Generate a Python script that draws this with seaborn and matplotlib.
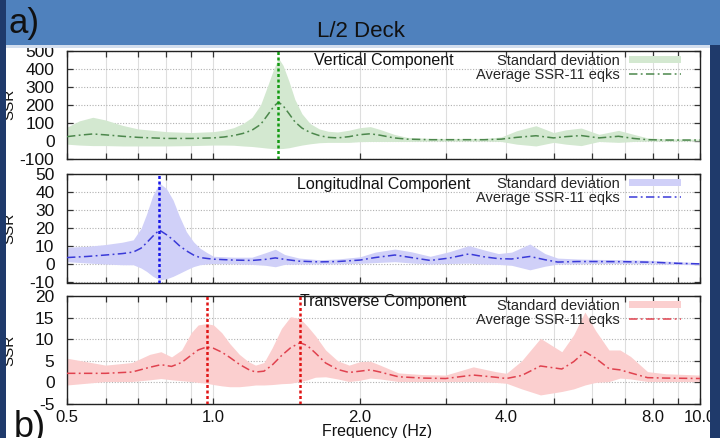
import matplotlib
matplotlib.use("Agg")
import matplotlib.pyplot as plt
import seaborn as sns
import pandas as pd
from matplotlib.patches import Rectangle
from matplotlib.ticker import FixedLocator, NullFormatter, FixedFormatter

# ---------------- data ----------------
vert_freq = [0.50, 0.53, 0.565, 0.60, 0.65, 0.70, 0.80, 0.90, 1.00, 1.05, 1.10, 1.15, 1.20, 1.25,
             1.29, 1.33, 1.36, 1.39, 1.43, 1.47, 1.52, 1.58, 1.65, 1.72, 1.80, 1.90, 2.00, 2.10,
             2.20, 2.35, 2.50, 2.80, 3.20, 3.60, 3.90, 4.20, 4.60, 5.00, 5.30, 5.70, 6.20, 6.80,
             7.30, 7.80, 8.50, 10.0]
vert_mean = [22, 30, 37, 32, 24, 18, 12, 12, 15, 20, 28, 40, 58, 90,
             140, 190, 215, 195, 150, 105, 70, 45, 28, 18, 15, 22, 33, 38,
             30, 15, 8, 5, 5, 5, 8, 18, 27, 15, 22, 28, 15, 24,
             12, 5, 3, 3]
vert_upper = [75, 110, 130, 115, 85, 65, 50, 45, 50, 58, 72, 95, 130, 200,
              300, 400, 460, 420, 330, 230, 150, 95, 65, 52, 48, 58, 72, 78,
              62, 35, 18, 12, 12, 12, 20, 55, 83, 45, 60, 70, 35, 57,
              35, 15, 10, 8]
vert_lower = [-20, -25, -28, -28, -30, -30, -30, -28, -25, -25, -26, -30, -33, -38,
              -42, -45, -45, -44, -40, -33, -25, -18, -12, -10, -10, -10, -6, -5,
              -5, -5, -5, -3, -3, -3, -5, -20, -30, -10, -20, -28, -5, -10,
              -5, -3, -3, -2]

long_freq = [0.50, 0.55, 0.60, 0.65, 0.684, 0.71, 0.729, 0.75, 0.774, 0.80, 0.826, 0.85, 0.88,
             0.91, 0.938, 0.97, 1.00, 1.10, 1.20, 1.28, 1.34, 1.40, 1.50, 1.65, 1.80, 2.00,
             2.15, 2.36, 2.55, 2.79, 3.05, 3.35, 3.60, 3.85, 4.10, 4.47, 4.80, 5.10, 5.60,
             6.00, 7.00, 8.00, 9.00, 10.0]
long_mean = [3.8, 4.4, 5.2, 6.0, 6.8, 9.0, 12.0, 15.5, 19.0, 16.5, 13.6, 10.5, 7.5,
             5.2, 3.8, 3.3, 2.9, 2.4, 2.2, 2.8, 3.6, 2.8, 1.8, 1.4, 1.6, 2.4,
             3.8, 5.2, 3.8, 2.2, 3.5, 5.8, 4.2, 3.2, 3.0, 4.4, 2.6, 1.3, 1.6,
             1.6, 1.5, 1.2, 0.6, 0.3]
long_upper = [9.5, 10.0, 11.0, 12.3, 13.6, 20.0, 28.0, 38.0, 45.0, 42.0, 35.6, 27.0, 18.0,
              12.5, 9.0, 6.5, 4.5, 4.0, 4.0, 6.5, 8.4, 5.5, 3.5, 2.6, 3.0, 4.2,
              6.8, 8.5, 7.0, 4.5, 7.0, 10.4, 8.0, 6.0, 6.8, 11.3, 6.0, 3.5, 3.0,
              2.8, 2.6, 2.2, 1.5, 1.0]
long_lower = [1.5, 0.8, 0.2, -0.2, -0.2, -2.0, -3.9, -6.5, -8.5, -8.0, -6.6, -5.0, -3.0,
              -1.2, -0.2, 0.3, 0.5, 0.3, 0.0, -0.5, -1.3, 0.0, 0.2, 0.3, 0.3, 0.6,
              1.0, 1.5, 0.8, 0.2, 0.5, 0.7, 0.2, 0.0, -0.5, -3.0, -1.0, 0.2, 0.3,
              0.5, 0.5, 0.3, 0.0, -0.2]

trans_freq = [0.50, 0.60, 0.68, 0.74, 0.78, 0.82, 0.86, 0.90, 0.93, 0.968, 1.00, 1.04, 1.08,
              1.13, 1.18, 1.22, 1.27, 1.32, 1.38, 1.44, 1.506, 1.56, 1.62, 1.70, 1.80, 1.90,
              2.00, 2.10, 2.20, 2.40, 2.70, 3.00, 3.42, 3.80, 4.00, 4.30, 4.70, 5.20, 5.50,
              5.80, 6.10, 6.50, 6.85, 7.20, 7.80, 8.50, 10.0]
trans_mean = [2.1, 2.1, 2.4, 3.5, 4.1, 3.7, 4.6, 6.3, 7.5, 8.2, 7.9, 7.0, 5.8,
              4.2, 3.0, 2.4, 2.6, 4.0, 6.2, 8.0, 9.2, 8.5, 6.8, 4.5, 3.0, 2.3,
              2.6, 2.9, 2.4, 1.3, 1.0, 0.9, 1.7, 1.2, 0.9, 1.6, 3.8, 3.1, 4.8,
              7.1, 5.6, 3.2, 2.9, 2.2, 1.1, 1.0, 0.9]
trans_upper = [5.6, 4.0, 4.6, 6.5, 7.1, 5.9, 7.5, 11.5, 13.3, 13.6, 13.3, 11.5, 9.0,
               6.5, 4.8, 4.0, 4.6, 8.0, 12.5, 15.2, 14.8, 13.0, 10.8, 7.5, 5.0, 4.0,
               4.8, 4.9, 4.0, 2.2, 1.8, 1.7, 3.6, 2.5, 2.1, 5.0, 10.2, 7.1, 11.0,
               16.3, 12.0, 7.5, 7.5, 6.0, 2.5, 2.0, 1.7]
trans_lower = [-0.6, 0.2, 0.2, 0.6, 0.9, 0.6, 0.4, 0.2, 0.0, -0.2, -0.5, -0.8, -1.0,
               -1.0, -0.8, -0.6, -0.6, -0.5, -0.3, -0.2, 0.2, 0.6, 1.2, 1.3, 0.8, 0.2,
               0.5, 1.0, 0.8, 0.2, 0.2, 0.2, 0.2, 0.0, -0.2, -1.5, -2.9, -2.1, -1.5,
               -0.6, 0.0, 0.2, 1.0, 0.8, 0.2, 0.2, 0.2]

vert_peaks = [1.36]
long_peaks = [0.774]
trans_peaks = [0.968, 1.506]

components = ["Vertical Component", "Longitudinal Component", "Transverse Component"]
ylims = [(-100, 500), (-10, 50), (-5, 20)]
ysteps = [100, 10, 5]

x_major = [0.5, 1.0, 2.0, 4.0, 8.0, 10.0]
x_major_labels = ["0.5", "1.0", "2.0", "4.0", "8.0", "10.0"]
x_minor = [0.6, 0.7, 0.8, 0.9, 3.0, 5.0, 6.0, 7.0, 9.0]

band_colors = ["#d3e8d0", "#d0d0f8", "#fbcfcf"]
line_colors = ["#4c874c", "#3a3ad8", "#e0424f"]
peak_colors = ["#119a11", "#1515e8", "#e01414"]

series = [
    (vert_freq, vert_mean, vert_upper, vert_lower, vert_peaks),
    (long_freq, long_mean, long_upper, long_lower, long_peaks),
    (trans_freq, trans_mean, trans_upper, trans_lower, trans_peaks),
]

# ---------------- style ----------------
sns.set_theme(style="white")
plt.rcParams["font.family"] = ["Liberation Sans", "DejaVu Sans"]
plt.rcParams["axes.edgecolor"] = "#222222"
plt.rcParams["axes.linewidth"] = 1.0
plt.rcParams["axes.unicode_minus"] = False

W, H = 720, 438
fig = plt.figure(figsize=(W / 100, H / 100), dpi=100)

# panel boxes in pixels: (top, bottom)
left_px, right_px = 67, 700
boxes = [(51, 158.5), (174, 282.5), (296, 404)]
title_y = [0.915, 0.905, 0.945]

axes = []
for i, (top, bot) in enumerate(boxes):
    ax = fig.add_axes([left_px / W, 1 - bot / H, (right_px - left_px) / W, (bot - top) / H])
    axes.append(ax)
    freq, mean, upper, lower, peaks = series[i]
    df = pd.DataFrame({"Frequency": freq, "mean": mean, "upper": upper, "lower": lower})
    ax.set_xscale("log")
    ax.fill_between(df["Frequency"], df["lower"], df["upper"], color=band_colors[i],
                    linewidth=0, zorder=1, label="Standard deviation")
    sns.lineplot(data=df, x="Frequency", y="mean", ax=ax, color=line_colors[i],
                 linewidth=1.1, linestyle=(0, (5.5, 2.2, 1.2, 2.2)), zorder=3,
                 label="Average SSR-11 eqks")
    for p in peaks:
        ax.axvline(p, color=peak_colors[i], linestyle=(0, (1.2, 1.0)), linewidth=1.8, zorder=4)

    ax.set_xlim(0.5, 10.0)
    lo, hi = ylims[i]
    ax.set_ylim(lo, hi)
    ax.yaxis.set_major_locator(FixedLocator(list(range(lo, hi + 1, ysteps[i]))))
    ax.xaxis.set_major_locator(FixedLocator(x_major))
    ax.xaxis.set_major_formatter(FixedFormatter(x_major_labels))
    ax.xaxis.set_minor_locator(FixedLocator(x_minor))
    ax.xaxis.set_minor_formatter(NullFormatter())

    ax.grid(True, which="both", axis="x", color="#dedede", linewidth=0.8, zorder=0)
    ax.grid(True, which="major", axis="y", color="#b0b0b0", linestyle=(0, (1, 1.5)),
            linewidth=0.8, zorder=0)
    ax.set_axisbelow(True)
    ax.tick_params(axis="both", which="both", direction="in", length=4, width=0.9,
                   top=True, right=True, bottom=True, left=True, color="#333333")
    ax.tick_params(axis="y", labelsize=12.5, pad=9, labelcolor="#111111")
    ax.tick_params(axis="x", labelsize=12, pad=4, labelcolor="#111111")
    if i < 2:
        ax.tick_params(axis="x", labelbottom=False)

    ax.set_ylabel("SSR", fontsize=11, color="#111111")
    ax.yaxis.set_label_coords((16 - left_px) / (right_px - left_px), 0.5)
    ax.set_xlabel("")

    ax.text(0.5, title_y[i], components[i], transform=ax.transAxes, ha="center",
            va="center", fontsize=11.5, color="#111111", zorder=2)

    handles, labels = ax.get_legend_handles_labels()
    order = [labels.index("Standard deviation"), labels.index("Average SSR-11 eqks")]
    ax.legend([handles[k] for k in order], [labels[k] for k in order],
              loc="upper right", bbox_to_anchor=((681 - left_px) / (right_px - left_px), 0.975),
              markerfirst=False, frameon=False, fontsize=10.5, handlelength=3.6,
              handleheight=0.45, handletextpad=0.6, labelspacing=0.0, borderaxespad=0,
              borderpad=0)

axes[2].set_xlabel("Frequency (Hz)", fontsize=11.5, color="#111111")
axes[2].xaxis.set_label_coords((377 - left_px) / (right_px - left_px), -0.185)

# page frame: header band, side strips
fig.add_artist(Rectangle((0, 1 - 45 / H), 1, 45 / H, transform=fig.transFigure,
                         facecolor="#4f81bd", edgecolor="none", zorder=5))
fig.add_artist(Rectangle((0, 1 - 48 / H), 1, 3 / H, transform=fig.transFigure,
                         facecolor="#d3deee", edgecolor="none", zorder=5))
fig.add_artist(Rectangle((0, 0), 6 / W, 1, transform=fig.transFigure,
                         facecolor="#1f3a6b", edgecolor="none", zorder=6))
fig.add_artist(Rectangle((710 / W, 0), 10 / W, 1 - 45 / H, transform=fig.transFigure,
                         facecolor="#1f3a6b", edgecolor="none", zorder=6))

fig.text(8 / W, 1 - 33 / H, "a)", fontsize=25, color="#111111", va="baseline", zorder=7)
fig.text(361 / W, 1 - 37 / H, "L/2 Deck", fontsize=16, color="#111111", ha="center",
         va="baseline", zorder=7)
fig.text(14 / W, 1 - 437 / H, "b)", fontsize=26, color="#111111", va="baseline", zorder=7)

fig.savefig("out.png", dpi=100)
